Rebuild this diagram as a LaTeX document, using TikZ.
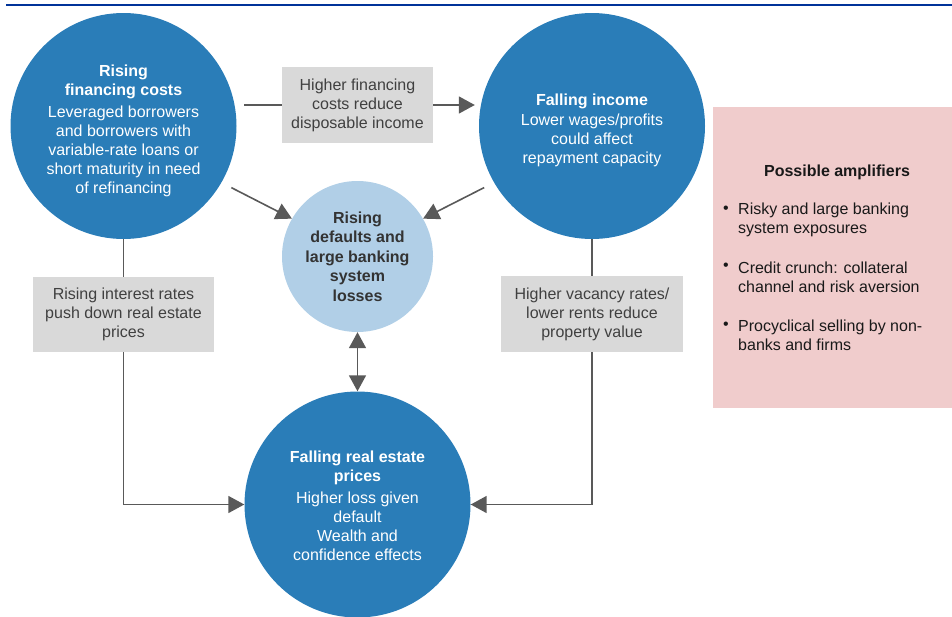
\documentclass[tikz,border=0pt]{standalone}
\usepackage{fontspec}
\setmainfont{Liberation Sans}
\definecolor{FSRnavy}{HTML}{003399}
\definecolor{FSRblue}{HTML}{2A7DB8}
\definecolor{FSRlight}{HTML}{B1CFE7}
\definecolor{FSRgray}{HTML}{D9D9D9}
\definecolor{FSRpink}{HTML}{F0CCCC}
\definecolor{FSRarrow}{HTML}{595959}
\definecolor{FSRtext}{HTML}{404040}
\usetikzlibrary{arrows.meta, positioning}

\tikzset{
   fsrfont/.style={font=\fontsize{16}{19}\selectfont},
   bigcirc/.style={circle, fill=FSRblue, minimum size=226pt, inner sep=0pt,
      text=white, align=center, fsrfont},
   midcirc/.style={circle, fill=FSRlight, minimum size=151pt, inner sep=0pt,
      text=FSRtext!80!black, align=center, fsrfont, font=\fontsize{16}{19.5}\selectfont\bfseries},
   graybox/.style={rectangle, fill=FSRgray, inner sep=0pt, text=FSRtext,
      align=center, fsrfont},
   ampitem/.style={anchor=west, inner sep=0pt, align=left, text=black!90, fsrfont},
   line/.style={draw=FSRarrow, line width=1.6pt},
   arrow/.style={line, -{Triangle[length=16pt, width=17pt]}}
}

\begin{document}
\begin{tikzpicture}[x=1pt, y=-1pt]
            \useasboundingbox (0,0) rectangle (952,616);
            % Top rule
            \draw[FSRnavy, line width=2pt] (6,4.5) -- (952,4.5);
            % Circles (trailing \\ pulls the text a little down)
            \node[bigcirc] (rfc) at (123.5,126)
               {\textbf{Rising}\\ \textbf{financing costs}\\[3pt]
                Leveraged borrowers\\ and borrowers with\\ variable-rate loans or\\
                short maturity in need\\ of refinancing\\[-25pt]};
            \node[bigcirc] (fi) at (592,126)
               {\textbf{Falling income}\\[1pt] Lower wages/profits\\ could affect\\
                repayment capacity\\[-24pt]};
            \node[midcirc] (rdl) at (357.5,256.5)
               {Rising\\ defaults and\\ large banking\\ system\\ losses};
            \node[bigcirc] (rep) at (357.5,504.5)
               {\textbf{Falling real estate}\\ \textbf{prices}\\[3pt] Higher loss given\\
                default\\ Wealth and\\ confidence effects\\[-22pt]};
            % Grey boxes
            \node[graybox, minimum width=151pt, minimum height=76pt] (hfc) at (357.5,105)
               {Higher financing\\ costs reduce\\ disposable income};
            \node[graybox, minimum width=181pt, minimum height=75pt] (irr) at (123.5,314.5)
               {Rising interest rates\\ push down real estate\\ prices};
            \node[graybox, minimum width=182pt, minimum height=76pt] (hvr) at (592,314)
               {Higher vacancy rates/\\ lower rents reduce\\ property value};
            % Amplifiers box
            \node[fill=FSRpink, minimum width=241pt, minimum height=301pt, inner sep=0pt]
               (amp) at (833.5,257.5) {};
            \node[inner sep=0pt, fsrfont, text=black!90] (ampt) at (837,172)
               {\textbf{Possible amplifiers}};
            \node[ampitem] (amp1) at (738,220) {Risky and large banking\\ system exposures};
            \node[ampitem] (amp2) at (738,277) {Credit crunch: collateral\\ channel and risk aversion};
            \node[ampitem] (amp3) at (738,335.5) {Procyclical selling by non-\\ banks and firms};
            \node[inner sep=0pt, fsrfont, text=black!90] (b1) at (726,210) {•};
            \node[inner sep=0pt, fsrfont, text=black!90] (b2) at (726,267) {•};
            \node[inner sep=0pt, fsrfont, text=black!90] (b3) at (726,326) {•};
            % Connectors
            \draw[line] ([xshift=7.5pt]rfc.east |- hfc.west) -- (hfc.west);
            \draw[arrow] (hfc.east) -- ([xshift=-4pt]fi.west |- hfc.east);
            \draw[arrow, shorten <=11pt] (rfc.-30) -- (rdl.150);
            \draw[arrow, shorten <=11pt] (fi.-150) -- (rdl.30);
            \draw[line, {Triangle[length=16pt, width=17pt]}-{Triangle[length=16pt, width=17pt]}]
               (rdl.south) -- (rep.north);
            \draw[line] (rfc.south) -- (irr.north);
            \draw[arrow] (irr.south) |- (rep.west);
            \draw[line] (fi.south) -- (hvr.north);
            \draw[arrow] (hvr.south) |- (rep.east);
         \end{tikzpicture}
\end{document}
